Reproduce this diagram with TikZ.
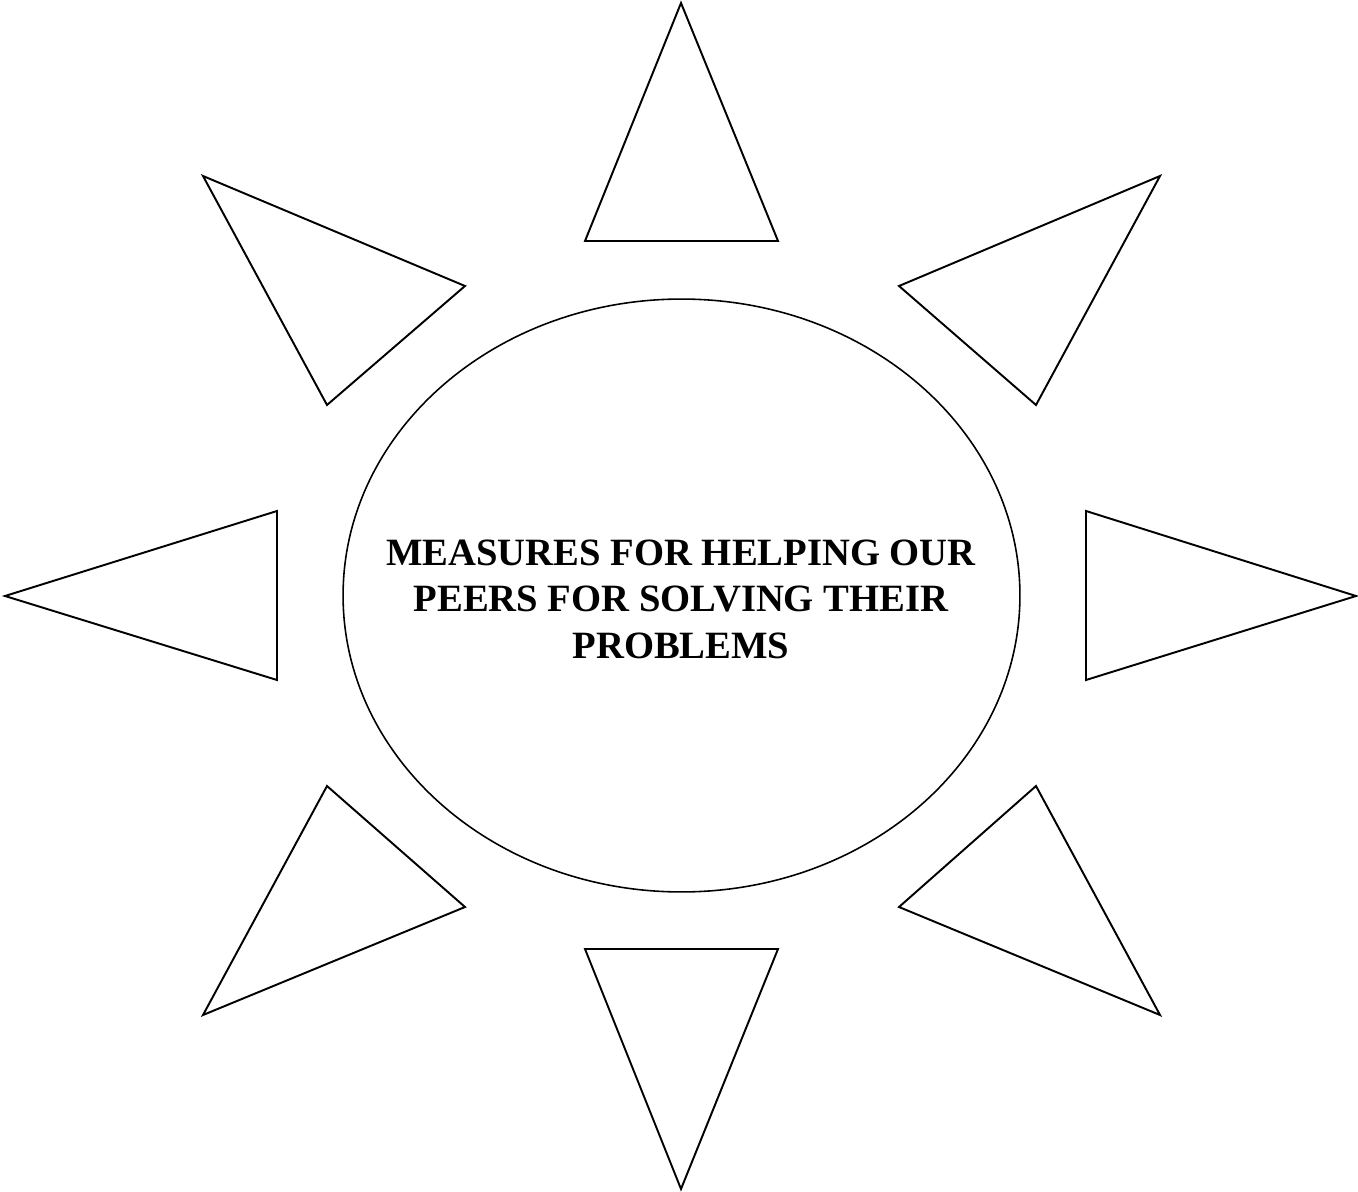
\documentclass[tikz,border=0pt]{standalone}
\usepackage{fontspec}
\setmainfont{Liberation Serif}
\usetikzlibrary{shapes.geometric}
\tikzset{
  ray/.style={draw=black, line width=1.1pt, line join=miter, fill=white},
  centre/.style={draw=black, line width=0.9pt, ellipse, minimum width=13.54cm, minimum height=11.86cm, inner sep=0pt, align=center,
    font=\fontsize{22}{26.5}\selectfont\bfseries}
}
\begin{document}
\begin{tikzpicture}[x=0.02cm, y=-0.02cm]
\useasboundingbox (0,0) rectangle (1358,1192);
% rays
\draw[ray] (681,3) -- (778,241) -- (585,241) -- cycle;
\draw[ray] (681,1189) -- (778,949) -- (585,949) -- cycle;
\draw[ray] (5,596) -- (277,511) -- (277,680) -- cycle;
\draw[ray] (1356,596) -- (1086,511) -- (1086,680) -- cycle;
\draw[ray] (203,176) -- (465,286) -- (327,405) -- cycle;
\draw[ray] (1160,176) -- (899,286) -- (1036,405) -- cycle;
\draw[ray] (203,1015) -- (465,907) -- (327,786) -- cycle;
\draw[ray] (1160,1015) -- (899,907) -- (1036,786) -- cycle;
% centre
\node[centre] (c) at (681.5,595.5) {};
\node[align=center, font=\fontsize{22}{26.5}\selectfont\bfseries] (t) at (681,599)
  {MEASURES FOR HELPING OUR\\PEERS FOR SOLVING THEIR\\PROBLEMS};
\end{tikzpicture}
\end{document}
